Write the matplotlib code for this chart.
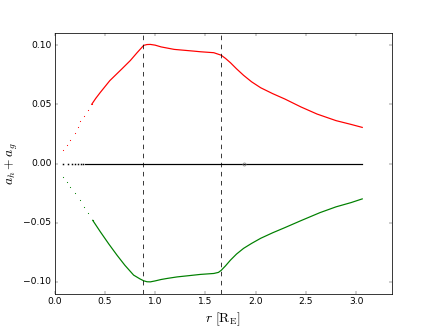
import matplotlib
matplotlib.use("Agg")
import matplotlib.pyplot as plt

plt.style.use("classic")
plt.rcParams["mathtext.fontset"] = "cm"

# values
red_x = [0.083, 0.12, 0.156, 0.2, 0.23, 0.256, 0.29, 0.33, 0.37, 0.41, 0.455, 0.55, 0.671, 0.754,
         0.82, 0.887, 0.92, 0.953, 1.0, 1.06, 1.19, 1.39, 1.451, 1.584, 1.657, 1.7, 1.75,
         1.81, 1.88, 1.96, 2.05, 2.17, 2.29, 2.45, 2.61, 2.8, 2.95, 3.06]
red_y = [0.0114, 0.016, 0.020, 0.026, 0.031, 0.0356, 0.040, 0.045, 0.050, 0.055, 0.060, 0.070,
         0.080, 0.087, 0.0935, 0.0998, 0.1005, 0.1006, 0.1000, 0.0985, 0.0964, 0.0949, 0.0944,
         0.0936, 0.0915, 0.0888, 0.0851, 0.0800, 0.0745, 0.0690, 0.0640, 0.0590, 0.0545, 0.0478,
         0.0418, 0.0362, 0.0330, 0.0305]

green_x = [0.083, 0.12, 0.156, 0.2, 0.25, 0.289, 0.33, 0.38, 0.455, 0.54, 0.621, 0.7, 0.787,
           0.85, 0.887, 0.92, 0.953, 1.0, 1.06, 1.12, 1.22, 1.32, 1.451, 1.584, 1.63, 1.657,
           1.7, 1.75, 1.81, 1.88, 1.96, 2.05, 2.17, 2.29, 2.45, 2.64, 2.8, 2.95, 3.06]
green_y = [-0.011, -0.0155, -0.0195, -0.025, -0.031, -0.0364, -0.042, -0.048, -0.0576, -0.068,
           -0.0774, -0.086, -0.0943, -0.0975, -0.0991, -0.0999, -0.1000, -0.0992, -0.0980,
           -0.0971, -0.0958, -0.0949, -0.0937, -0.0929, -0.0920, -0.0903, -0.0865, -0.0816,
           -0.0765, -0.0717, -0.0675, -0.0632, -0.0585, -0.0542, -0.0483, -0.0415, -0.0366,
           -0.0330, -0.0299]

zero_x = [0.3, 3.06]
zero_y = [0.0, 0.0]
zero_dots_x = [0.08, 0.13, 0.17, 0.2, 0.23, 0.26, 0.28]
zero_dots_y = [0.0, 0.0, 0.0, 0.0, 0.0, 0.0, 0.0]
outlier_x = [1.88]
outlier_y = [0.0]

vlines = [0.883, 1.657]

fig = plt.figure(figsize=(8, 6), dpi=54.5)
ax = fig.add_subplot(111)

ax.plot(red_x[:9], red_y[:9], ls="none", marker=".", ms=3, color="red", mec="none")
ax.plot(red_x[8:], red_y[8:], "-", color="red", lw=1.6)
ax.plot(green_x[:8], green_y[:8], ls="none", marker=".", ms=3, color="green", mec="none")
ax.plot(green_x[7:], green_y[7:], "-", color="green", lw=1.6)
ax.plot(zero_x, zero_y, "-", color="black", lw=1.6)
ax.plot(zero_dots_x, zero_dots_y, ls="none", marker="s", ms=2, color="black", mec="none")
ax.plot(outlier_x, outlier_y, ls="none", marker="o", ms=4, mfc="none", mec="gray", mew=1)

for xv in vlines:
    ax.axvline(xv, color="black", ls="--", lw=1)

ax.set_xlim(0, 3.36)
ax.set_ylim(-0.1105, 0.1105)
ax.set_xticks([0.0, 0.5, 1.0, 1.5, 2.0, 2.5, 3.0])
ax.set_yticks([-0.10, -0.05, 0.00, 0.05, 0.10])
ax.set_xlabel(r"$r\ [\mathrm{R_E}]$", fontsize=18)
ax.set_ylabel(r"$a_h + a_g$", fontsize=18)

fig.savefig("out.png", dpi=54.5)
